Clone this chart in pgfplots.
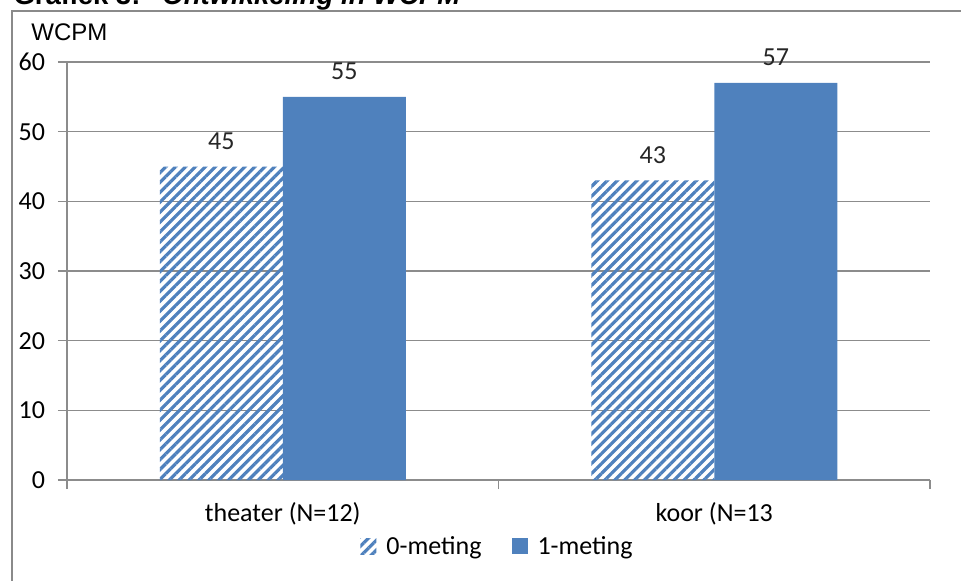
\documentclass[border=0pt]{standalone}
\usepackage{pgfplots}
\pgfplotsset{compat=1.18}
\usepackage{fontspec}
\setmainfont{Carlito}
\newfontfamily\arial{Liberation Sans}
\usetikzlibrary{patterns.meta}
\definecolor{barblue}{HTML}{4F81BD}
\definecolor{gridgray}{HTML}{8C8C8C}
\definecolor{framegray}{HTML}{8A8A8A}
\begin{document}
\begin{tikzpicture}
\useasboundingbox (0,0) rectangle (480.5pt,290pt);
\draw[line width=1.15pt, framegray] (6pt,-20pt) -- (6pt,284.5pt) -- (500pt,284.5pt);
\node[anchor=base west, inner sep=0pt, font=\arial\bfseries\fontsize{13.75}{16}\selectfont] at (6.6pt,287.5pt) {Grafiek 3:};
\node[anchor=base west, inner sep=0pt, font=\arial\bfseries\itshape\fontsize{13.75}{16}\selectfont] at (81pt,287.5pt) {Ontwikkeling in WCPM};
\node[anchor=base west, inner sep=0pt, font=\arial\fontsize{12}{14}\selectfont] at (15.5pt,269.5pt) {WCPM};
\begin{axis}[
  at={(33.5pt,50pt)}, anchor=south west,
  scale only axis, width=431.5pt, height=209pt,
  ybar=0pt, bar width=61.5pt,
  xmin=-0.5, xmax=1.5, ymin=0, ymax=60,
  xtick={-0.5,0.5,1.5},
  x tick label as interval=true,
  xticklabels={theater (N=12), koor (N=13},
  ytick={0,10,20,30,40,50,60},
  axis lines=left,
  axis line style={-, gridgray, line width=0.7pt},
  tick style={gridgray, line width=0.7pt},
  tick align=outside,
  major tick length=4.5pt,
  ymajorgrids=true,
  grid style={gridgray, line width=0.7pt},
  /pgf/number format/assume math mode=true,
  tick label style={font=\fontsize{13}{15}\selectfont, text=black},
  yticklabel style={xshift=-3pt},
  xticklabel style={yshift=-3pt},
  nodes near coords,
  every node near coord/.append style={font=\fontsize{13}{15}\selectfont, text=black!85, yshift=5pt},
  legend style={at={(0.5,-0.16)}, anchor=center, draw=none, legend columns=2,
    font=\fontsize{13}{15}\selectfont,
    /tikz/every odd column/.append style={column sep=3pt},
    /tikz/every even column/.append style={column sep=13pt}},
  legend cell align=left,
  legend image code/.code={\path[#1] (0pt,-3.6pt) rectangle (8pt,4.2pt);},
]
\addplot[draw=none, pattern={Lines[angle=45,distance=3.5pt,line width=1.6pt]}, pattern color=barblue] coordinates {(0,45) (1,43)};
\addplot[draw=none, fill=barblue] coordinates {(0,55) (1,57)};
\legend{0-meting, 1-meting}
\end{axis}
\end{tikzpicture}
\end{document}
